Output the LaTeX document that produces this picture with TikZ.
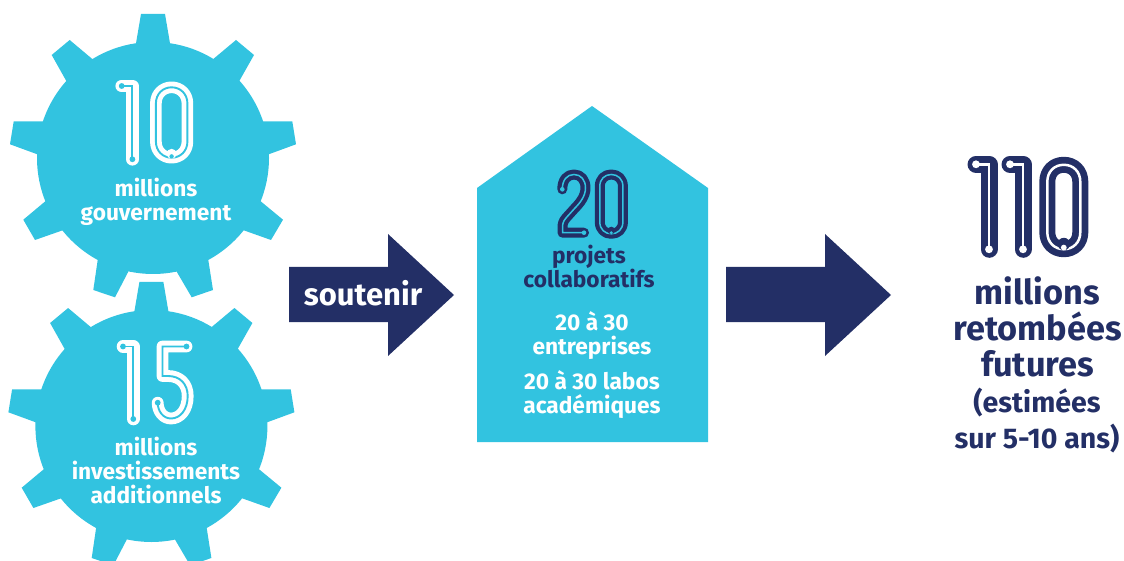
\documentclass[tikz,border=0pt]{standalone}
\usepackage{fontspec}
\setmainfont{Fira Sans}
\definecolor{cy}{HTML}{32C3E0}
\definecolor{nv}{HTML}{232F66}
\tikzset{
  x=1pt,y=-1pt,
  wtxt/.style={text=white,font=\bfseries\fontsize{22.7}{24}\selectfont,align=center,inner sep=0pt},
  ntxt/.style={text=nv,font=\bfseries\fontsize{22.7}{24}\selectfont,align=center,inner sep=0pt},
  big/.style={text=nv,font=\bfseries\fontsize{34.3}{36}\selectfont,align=center,inner sep=0pt},
  mid/.style={text=nv,font=\bfseries\fontsize{28.5}{36}\selectfont,align=center,inner sep=0pt},
  numeral/.style={opacity=0,text opacity=0,inner sep=0pt},
}
\newcommand{\tooth}[4]{\fill[cy] (153,158) -- #1 -- #2 -- #3 -- #4 -- cycle;}
\newcommand{\gearshape}{%
  \fill[cy] (153,158) circle[radius=116];
  \tooth{(136,43.3)}{(141,14)}{(165,14)}{(170,43.3)}
  \tooth{(213.3,59)}{(236,40)}{(254,55)}{(239.3,81)}
  \tooth{(262.7,121.3)}{(292.3,121.3)}{(296,144.3)}{(268.7,154.3)}
  \tooth{(260.7,201.3)}{(283,219.7)}{(271,240)}{(243.7,230.3)}
  \tooth{(208.3,260)}{(213,290)}{(191.7,297.3)}{(176.7,271.7)}
  \tooth{(128.3,271.7)}{(115,297.3)}{(93.3,290)}{(97.7,260)}
  \tooth{(62.7,230.3)}{(35,240)}{(23.3,219.7)}{(45.3,201.3)}
  \tooth{(37.3,154.3)}{(10,144.3)}{(13.7,121.3)}{(43.3,121.3)}
  \tooth{(66.3,81)}{(51.7,55)}{(69.7,40)}{(92.3,59)}
}
% Double-stroke lettering: #1 outer colour, #2 core colour, #3 outer width, #4 core width, #5 path
\newcommand{\stroked}[5]{%
  \draw[#1,line width=#3pt,line cap=round,line join=round] #5;
  \draw[#2,line width=#4pt,line join=miter] #5;
}
\newcommand{\dotat}[3]{\fill[#1] #2 circle[radius=#3];}
% one: colours, widths, bottom y, terminal x, top y, stem x
\newcommand{\digitone}[8]{%
  \stroked{#1}{#2}{#3}{#4}{(#6,#7) -- (#8,#7) -- (#8,#5)}
  \dotat{#2}{(#6,#7)}{#3*0.23}
  \dotat{#2}{(#8,#5)}{#3*0.23}
}
\begin{document}
\begin{tikzpicture}
\useasboundingbox (0,0) rectangle (1124,561);
\clip (0,0) rectangle (1124,561);
\gearshape
\begin{scope}[shift={(-1.6,268)}]\gearshape\end{scope}
\fill[cy] (477,188) -- (592,106) -- (708,188) -- (708,442) -- (477,442) -- cycle;
\fill[nv] (289,267) -- (388,267) -- (388,234) -- (454,295) -- (388,356) -- (388,322) -- (289,322) -- cycle;
\fill[nv] (726,267) -- (825,267) -- (825,234) -- (891,295) -- (825,356) -- (825,322) -- (726,322) -- cycle;
% --- 10 ---
\digitone{white}{cy}{12.6}{1.9}{159.3}{121.7}{86}{132.4}
\stroked{white}{cy}{11.6}{1.9}{(155.9,103.3) .. controls (155.9,94) and (162.8,87.3) .. (171.6,87.3) .. controls (180.4,87.3) and (187.4,94) .. (187.4,103.3) -- (187.4,141.7) .. controls (187.4,151) and (180.4,157.7) .. (171.6,157.7) .. controls (162.8,157.7) and (155.9,151) .. (155.9,141.7) -- cycle}
\fill[white] (171.6,153.8) circle[radius=5];
\fill[cy] (171.6,156.4) circle[radius=2.2];
% --- 15 ---
\digitone{white}{cy}{12.6}{1.9}{419}{123}{346.5}{133.3}
\stroked{white}{cy}{11.8}{1.9}{(186.5,346.5) -- (162.5,346.5) -- (162.5,376) -- (168,376) .. controls (180,376) and (187.7,384) .. (187.7,396) .. controls (187.7,410) and (180,418.5) .. (171,418.5) .. controls (163,418.5) and (157.7,411) .. (157.7,402.7)}
\dotat{cy}{(186.5,346.5)}{2.9}
\dotat{cy}{(157.7,402.7)}{2.9}
% --- 20 ---
\stroked{nv}{cy}{10}{1.5}{(562.3,189.3) .. controls (562.3,180) and (567,174.5) .. (574,174.5) .. controls (581,174.5) and (585.5,180) .. (585.5,188) .. controls (585.5,196) and (580,203) .. (575,208) -- (566,218) .. controls (563,221.5) and (562.5,224) .. (562.5,228) -- (562.5,232.7) -- (584,232.7)}
\dotat{cy}{(562.3,189.3)}{2.3}
\dotat{cy}{(584,232.7)}{2.3}
\stroked{nv}{cy}{10}{1.5}{(599.8,186.3) .. controls (599.8,179) and (604.8,174.5) .. (611.3,174.5) .. controls (617.8,174.5) and (622.9,179) .. (622.9,186.3) -- (622.9,222) .. controls (622.9,229.3) and (617.8,233.8) .. (611.3,233.8) .. controls (604.8,233.8) and (599.8,229.3) .. (599.8,222) -- cycle}
\fill[nv] (611.3,230.5) circle[radius=3.8];
\fill[cy] (611.3,232.8) circle[radius=1.7];
% --- 110 ---
\digitone{nv}{white}{17}{2.6}{249.3}{976}{164.3}{989}
\digitone{nv}{white}{17}{2.6}{249.3}{1010}{164.3}{1023}
\stroked{nv}{white}{16}{2.5}{(1047.3,181.8) .. controls (1047.3,171.5) and (1054.4,164.8) .. (1063.8,164.8) .. controls (1073.2,164.8) and (1080.3,171.5) .. (1080.3,181.8) -- (1080.3,232.2) .. controls (1080.3,242.5) and (1073.2,249.2) .. (1063.8,249.2) .. controls (1054.4,249.2) and (1047.3,242.5) .. (1047.3,232.2) -- cycle}
\fill[nv] (1063.8,244) circle[radius=6.2];
\fill[white] (1063.8,247.6) circle[radius=2.9];
% The numerals above are custom lettering drawn as paths; these transparent
% nodes carry the same numerals as real text at the same places.
\node[numeral,font=\bfseries\fontsize{80}{80}\selectfont] (n10) at (155,122) {10};
\node[numeral,font=\bfseries\fontsize{80}{80}\selectfont] (n15) at (155,382) {15};
\node[numeral,font=\bfseries\fontsize{60}{60}\selectfont] (n20) at (592,202) {20};
\node[numeral,font=\bfseries\fontsize{100}{100}\selectfont] (n110) at (1028,207) {110};
% --- labels ---
\node[wtxt] (t1) at (156,202) {millions\\gouvernement};
\node[wtxt] (t2) at (156,470.5) {millions\\investissements\\additionnels};
\node[text=white,font=\bfseries\fontsize{31}{34}\selectfont,inner sep=0pt] (s) at (363,293.5) {soutenir};
\node[ntxt] (t3) at (589,266) {projets\\collaboratifs};
\node[wtxt] (t4) at (592,336) {20 à 30\\entreprises};
\node[wtxt] (t5) at (592,395) {20 à 30 labos\\académiques};
\node[big] (t6) at (1037.5,327) {millions\\retombées\\futures};
\node[mid] (t7) at (1037,421) {(estimées\\sur 5-10 ans)};
\end{tikzpicture}
\end{document}
